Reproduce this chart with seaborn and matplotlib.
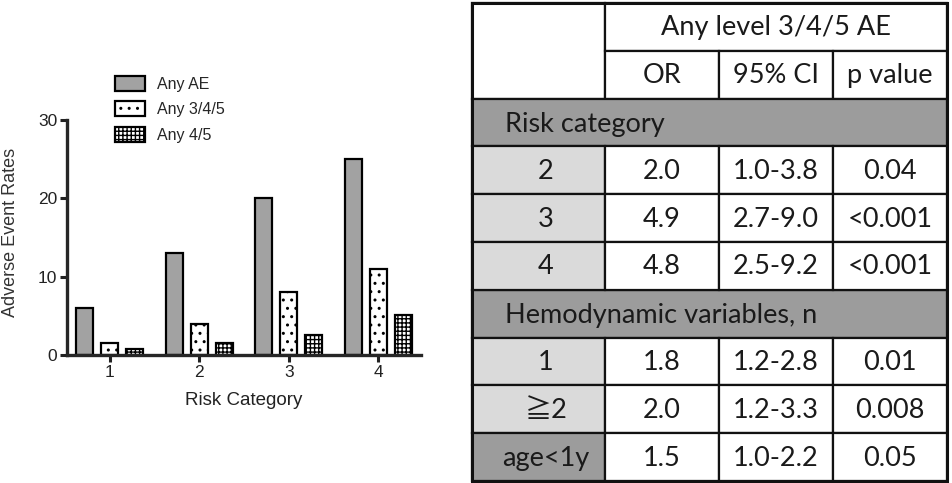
import numpy as np
import pandas as pd
import matplotlib
matplotlib.use("Agg")
import matplotlib.pyplot as plt
from matplotlib.patches import Rectangle
import seaborn as sns

# ---------------------------------------------------------------------------
# data
# ---------------------------------------------------------------------------
risk_categories = ["1", "2", "3", "4"]
series_names = ["Any AE", "Any 3/4/5", "Any 4/5"]
any_ae = [6.0, 13.0, 20.0, 25.0]
any_345 = [1.5, 4.0, 8.0, 11.0]
any_45 = [0.8, 1.5, 2.6, 5.1]

table_title = "Any level 3/4/5 AE"
table_cols = ["OR", "95% CI", "p value"]
section_titles = ["Risk category", "Hemodynamic variables, n"]
row_labels = ["2", "3", "4", "1", "\u22672", "age<1y"]
or_vals = ["2.0", "4.9", "4.8", "1.8", "2.0", "1.5"]
ci_vals = ["1.0-3.8", "2.7-9.0", "2.5-9.2", "1.2-2.8", "1.2-3.3", "1.0-2.2"]
p_vals = ["0.04", "<0.001", "<0.001", "0.01", "0.008", "0.05"]

df = pd.DataFrame({
    "risk": risk_categories * 3,
    "rate": any_ae + any_345 + any_45,
    "series": np.repeat(series_names, len(risk_categories)),
})

# ---------------------------------------------------------------------------
# style
# ---------------------------------------------------------------------------
sns.set_style("ticks")
plt.rcParams["font.family"] = ["Liberation Sans", "DejaVu Sans"]
plt.rcParams["hatch.linewidth"] = 1.0

W, H = 953, 483
fig = plt.figure(figsize=(W / 100, H / 100), dpi=100)

# bar chart -----------------------------------------------------------------
ax = fig.add_axes([67 / W, 1 - 355 / H, 354 / W, 235 / H])
palette = {"Any AE": "#a2a2a2", "Any 3/4/5": "#ffffff", "Any 4/5": "#ffffff"}
sns.barplot(data=df, x="risk", y="rate", hue="series", palette=palette,
            width=0.84, gap=0.32, edgecolor="black", linewidth=1.6,
            legend=False, ax=ax)

hatches = [None, "..", "++++"]
for cont, h in zip(ax.containers, hatches):
    for bar in cont:
        if h:
            bar.set_hatch(h)
        bar.set_edgecolor("black")

ax.set_ylim(0, 30)
ax.set_xlim(-0.48, 3.48)
ax.set_yticks([0, 10, 20, 30])
sns.despine(ax=ax)
for s in ["left", "bottom"]:
    ax.spines[s].set_linewidth(2.4)
ax.tick_params(axis="both", length=5, width=2.2, labelsize=12.5,
               colors="#222222", pad=2)
ax.set_xlabel("Risk Category", fontsize=13.5, color="#222222", labelpad=9)
ax.set_ylabel("Adverse Event Rates", fontsize=13, color="#333333")
ax.yaxis.set_label_coords(-0.135, 0.52)

ax.legend(handles=ax.containers, labels=series_names, frameon=False,
          fontsize=11.5, handlelength=1.9, handleheight=1.05,
          labelspacing=0.6, handletextpad=0.75, loc="upper left",
          bbox_to_anchor=(107 / W, 1 - 68 / H),
          bbox_transform=fig.transFigure, borderpad=0)

# table -----------------------------------------------------------------------
tax = fig.add_axes([0, 0, 1, 1])
tax.set_xlim(0, W)
tax.set_ylim(H, 0)
tax.axis("off")

col_edges = [472, 605, 719, 833, 947]
row_h = 47.8
top = 3
row_edges = [top + i * row_h for i in range(11)]
dark = "#9c9c9c"
light = "#dadada"
tfont = dict(family=["Lato", "Noto Sans CJK JP", "DejaVu Sans"], fontsize=19.5,
             color="#1a1a1a")
lw = 1.6


def cell(c0, c1, r0, r1, fc="white"):
    tax.add_patch(Rectangle((col_edges[c0], row_edges[r0]),
                            col_edges[c1] - col_edges[c0],
                            row_edges[r1] - row_edges[r0],
                            facecolor=fc, edgecolor="#111111", linewidth=lw))


def mid(a, b):
    return (a + b) / 2


# header
cell(0, 1, 0, 2)
cell(1, 4, 0, 1)
tax.text(mid(col_edges[1], col_edges[4]), mid(row_edges[0], row_edges[1]) + 1,
         table_title, ha="center", va="center", **tfont)
for j, name in enumerate(table_cols):
    cell(j + 1, j + 2, 1, 2)
    tax.text(mid(col_edges[j + 1], col_edges[j + 2]),
             mid(row_edges[1], row_edges[2]) + 1, name,
             ha="center", va="center", **tfont)

# body
section_rows = {2: section_titles[0], 6: section_titles[1]}
data_rows = [3, 4, 5, 7, 8, 9]
for r, title in section_rows.items():
    cell(0, 4, r, r + 1, fc=dark)
    tax.text(col_edges[0] + 33, mid(row_edges[r], row_edges[r + 1]) + 2, title,
             ha="left", va="center", **tfont)

for k, r in enumerate(data_rows):
    fc = dark if row_labels[k].startswith("age") else light
    cell(0, 1, r, r + 1, fc=fc)
    yc = mid(row_edges[r], row_edges[r + 1]) + 1
    tax.text(546, yc, row_labels[k], ha="center", va="center", **tfont)
    for j, v in enumerate([or_vals[k], ci_vals[k], p_vals[k]]):
        cell(j + 1, j + 2, r, r + 1)
        tax.text(mid(col_edges[j + 1], col_edges[j + 2]), yc, v,
                 ha="center", va="center", **tfont)

tax.add_patch(Rectangle((col_edges[0], row_edges[0]),
                        col_edges[-1] - col_edges[0],
                        row_edges[-1] - row_edges[0],
                        facecolor="none", edgecolor="#111111", linewidth=2.2))

fig.savefig("out.png", dpi=100)
